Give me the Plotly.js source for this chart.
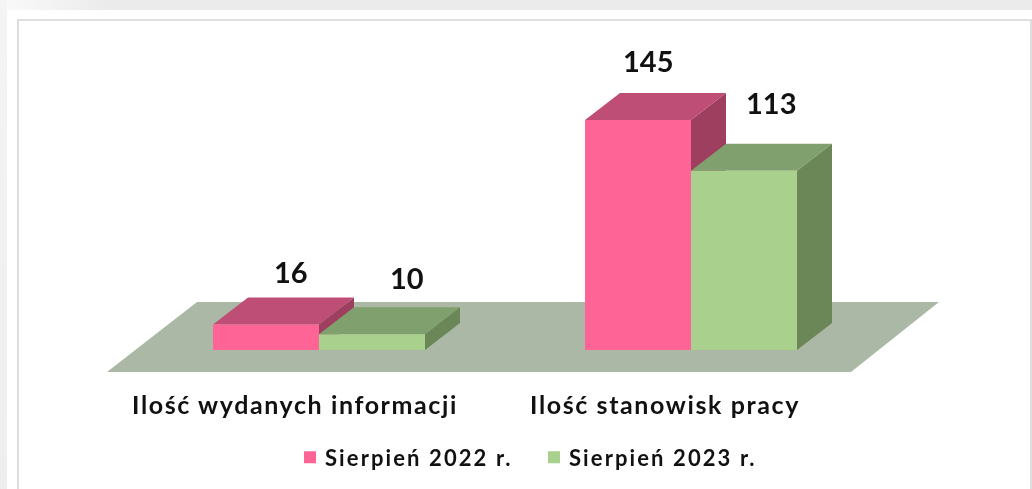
<!DOCTYPE html>
<html><head><meta charset="utf-8">
<script src="https://cdn.plot.ly/plotly-3.0.1.min.js"></script>
<style>
html,body{margin:0;padding:0;width:1032px;height:489px;overflow:hidden;background:#fff}
#wrap{position:relative;width:1032px;height:489px;overflow:hidden;background:#fff}
#band{position:absolute;left:0;top:0;width:1032px;height:10px;background:linear-gradient(90deg,#fafafa 0,#ebebeb 110px,#ebebeb 100%)}
#bandl{position:absolute;left:0;top:0;width:7px;height:489px;background:linear-gradient(180deg,#f4f4f4,#eeeeee)}
#frame{position:absolute;left:17px;top:19px;width:1011px;height:480px;border:2px solid #dedede;box-sizing:content-box}
#chart{position:absolute;left:0;top:0;width:1032px;height:489px;filter:blur(0.5px)}
.xtick text{letter-spacing:1.6px}
.legendtext{letter-spacing:2.1px;transform:translateX(-5px)}
</style></head><body>
<div id="wrap"><div id="band"></div><div id="bandl"></div><div id="frame"></div><div id="chart"></div></div>
<script>
const categories = ["Ilość wydanych informacji", "Ilość stanowisk pracy"];
const seriesNames = ["Sierpień 2022 r.", "Sierpień 2023 r."];
const values2022 = [16, 145];
const values2023 = [10, 113];

// Scale of the picture: pixels per data unit on each axis.
const W = 1032, H = 489, plotBottom = 388;
const pxX = 372, pxY = 230 / 145;
const x0Px = 319, y0Px = 350;
const barW = 106 / pxX;
const depthX = 35 / pxX, depthY = 27 / pxY;
const floorFront = [107, 851], floorBack = [197, 939], floorFrontY = 372, floorBackY = 302;
const toX = p => (p - x0Px) / pxX;
const toY = p => (y0Px - p) / pxY;
const xRange = [toX(0), toX(W)];
const yRange = [toY(plotBottom), toY(0)];

const colors = {
  a: {front: "#FE6496", top: "#BF4E76", side: "#9E3F60"},
  b: {front: "#A9D08C", top: "#80A06E", side: "#6B8657"},
  floor: "#AAB8A5"
};

function face(xs, ys, color) {
  return {type: "scatter", mode: "lines", x: xs, y: ys, fill: "toself", fillcolor: color,
          line: {width: 0, color: color}, showlegend: false, hoverinfo: "skip"};
}
function boxFaces(values, sign, col) {
  const out = [];
  values.forEach((v, i) => {
    const l = sign < 0 ? i - barW : i, r = l + barW;
    out.push(face([l, r, r + depthX, l + depthX, l], [v, v, v + depthY, v + depthY, v], col.top));
    out.push(face([r, r + depthX, r + depthX, r, r], [0, depthY, v + depthY, v, 0], col.side));
  });
  return out;
}
const floor = face(
  [floorFront[0], floorFront[1], floorBack[1], floorBack[0], floorFront[0]].map(toX),
  [floorFrontY, floorFrontY, floorBackY, floorBackY, floorFrontY].map(toY),
  colors.floor);

function frontBars(name, values, sign, color) {
  return {type: "bar", name: name, x: [0, 1], y: values, width: barW,
          offset: sign < 0 ? -barW : 0, marker: {color: color, line: {width: 0}},
          xaxis: "x2", yaxis: "y2", hoverinfo: "name+y"};
}
const traces = [floor]
  .concat(boxFaces(values2022, -1, colors.a))
  .concat(boxFaces(values2023, 1, colors.b))
  .concat([frontBars(seriesNames[0], values2022, -1, colors.a.front),
           frontBars(seriesNames[1], values2023, 1, colors.b.front)]);

const fontFam = "Lato, 'Open Sans', sans-serif";
const labelShift = [[25, 26], [35, 30], [10, 33], [27, 41]];
const allVals = [[values2022[0], -1, 0], [values2023[0], 1, 0], [values2022[1], -1, 1], [values2023[1], 1, 1]];
const annotations = allVals.map((a, k) => ({
  x: a[2] + a[1] * barW / 2, y: a[0] + depthY, xref: "x", yref: "y",
  text: String(a[0]), showarrow: false, xanchor: "center", yanchor: "middle",
  xshift: labelShift[k][0], yshift: labelShift[k][1],
  font: {family: fontFam, size: 29, weight: 700, color: "#111"}
}));

const hiddenAxis = {range: xRange, visible: false, fixedrange: true};
const layout = {
  width: W, height: H,
  margin: {l: 0, r: 0, t: 0, b: H - plotBottom, pad: 0},
  paper_bgcolor: "rgba(0,0,0,0)", plot_bgcolor: "rgba(0,0,0,0)",
  showlegend: true,
  legend: {orientation: "h", x: 0.281, xanchor: "left", y: -0.125, yanchor: "top",
           entrywidth: 199, entrywidthmode: "pixels",
           traceorder: "normal", bgcolor: "rgba(0,0,0,0)", itemclick: false, itemdoubleclick: false,
           font: {family: fontFam, size: 22, weight: 700, color: "#111"}},
  xaxis: {range: xRange, showgrid: false, zeroline: false, showline: false, ticks: "", fixedrange: true,
          tickmode: "array", tickvals: [toX(295), toX(665)], ticktext: categories,
          tickfont: {family: fontFam, size: 25, weight: 700, color: "#111"}},
  yaxis: {range: yRange, visible: false, fixedrange: true},
  xaxis2: Object.assign({}, hiddenAxis, {overlaying: "x"}),
  yaxis2: {range: yRange, visible: false, fixedrange: true, overlaying: "y"},
  annotations: annotations,
  hovermode: false
};
Plotly.newPlot("chart", traces, layout, {displayModeBar: false, staticPlot: true});
</script></body></html>
